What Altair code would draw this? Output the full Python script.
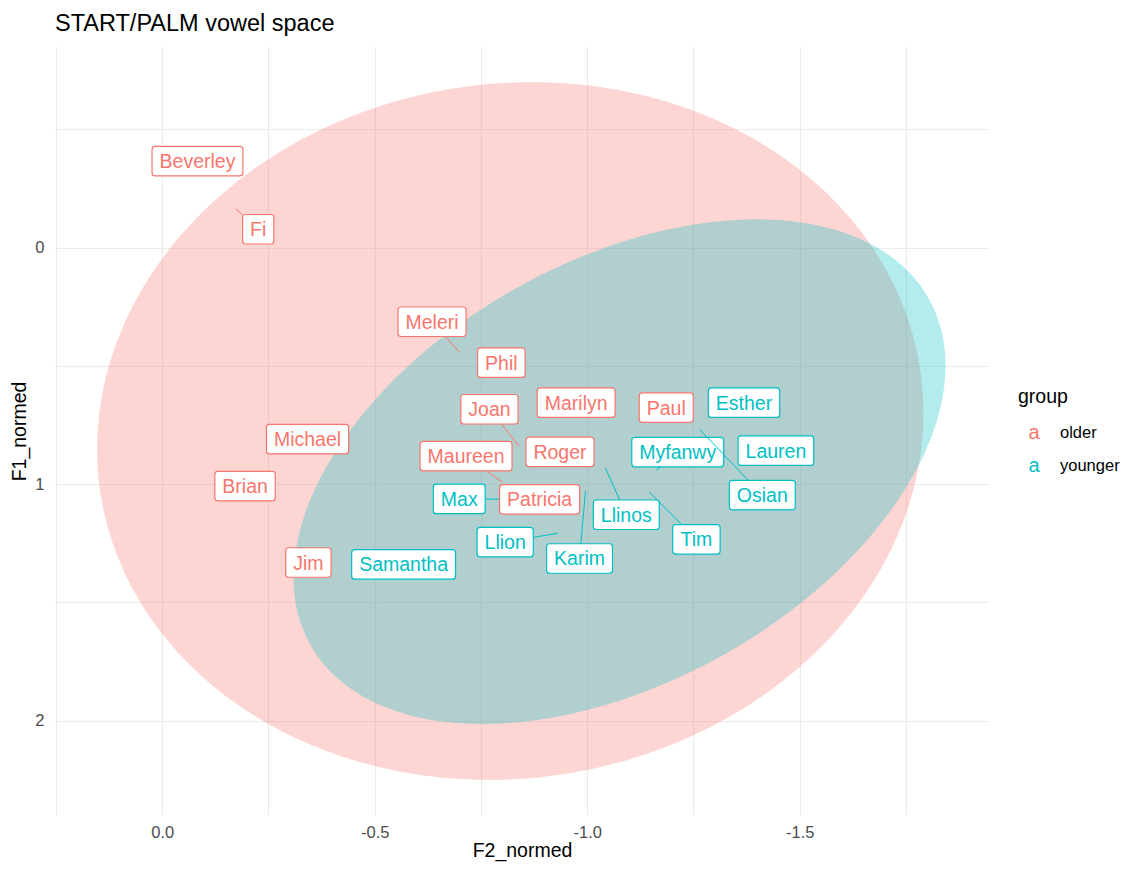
import altair as alt
import numpy as np
import pandas as pd

# ---------------- data ----------------
groups = ["older", "younger"]
group_colors = ["#F8766D", "#00BFC4"]

older_names = ["Beverley", "Fi", "Meleri", "Phil", "Joan", "Marilyn", "Paul",
               "Maureen", "Roger", "Patricia", "Michael", "Brian", "Jim"]
older_F2 = [-0.083, -0.173, -0.699, -0.798, -0.840, -0.974, -1.186,
            -0.800, -0.936, -0.888, -0.342, -0.195, -0.344]
older_F1 = [-0.366, -0.165, 0.442, 0.486, 0.839, 0.655, 0.676,
            0.991, 0.863, 1.064, 0.809, 1.008, 1.331]
older_label_F2 = [-0.083, -0.226, -0.635, -0.798, -0.770, -0.974, -1.186,
                  -0.715, -0.936, -0.888, -0.342, -0.195, -0.344]
older_label_F1 = [-0.366, -0.078, 0.313, 0.486, 0.683, 0.655, 0.676,
                  0.881, 0.863, 1.064, 0.809, 1.008, 1.331]

younger_names = ["Max", "Samantha", "Llion", "Karim", "Llinos", "Tim",
                 "Myfanwy", "Esther", "Lauren", "Osian"]
younger_F2 = [-0.793, -0.568, -0.932, -0.996, -1.043, -1.146,
              -1.163, -1.369, -1.444, -1.264]
younger_F1 = [1.063, 1.339, 1.207, 1.029, 0.932, 1.033,
              0.940, 0.655, 0.858, 0.767]
younger_label_F2 = [-0.699, -0.568, -0.807, -0.982, -1.092, -1.257,
                    -1.213, -1.369, -1.444, -1.412]
younger_label_F1 = [1.062, 1.339, 1.245, 1.314, 1.129, 1.233,
                    0.864, 0.655, 0.858, 1.046]

# 95% ellipses per group: centre, half extents, phase
ell_cF2 = [-0.819, -1.076]
ell_cF1 = [0.775, 0.947]
ell_rF2 = [0.972, 0.767]
ell_rF1 = [1.475, 1.067]
ell_phase = [1.519, 1.137]

x_ticks = [0.25, 0.0, -0.25, -0.5, -0.75, -1.0, -1.25, -1.5, -1.75]
y_ticks = [-0.5, 0.0, 0.5, 1.0, 1.5, 2.0]

# ---------------- layout constants ----------------
W, H = 934, 768
X_DOM = [-1.9454, 0.2522]
Y_DOM = [-0.8487, 2.3986]
FONT = "Liberation Sans"
LABEL_FS = 19.5
kx = W / (X_DOM[1] - X_DOM[0])
ky = H / (Y_DOM[1] - Y_DOM[0])

# Arial advance widths (per 1000 em)
AW = {
    'B': 667, 'F': 611, 'M': 833, 'P': 667, 'J': 500, 'R': 722, 'I': 278,
    'L': 556, 'K': 667, 'T': 611, 'E': 667, 'O': 778, 'S': 667,
    'a': 556, 'b': 556, 'c': 500, 'd': 556, 'e': 556, 'f': 278, 'g': 556,
    'h': 556, 'i': 222, 'j': 222, 'k': 500, 'l': 222, 'm': 833, 'n': 556,
    'o': 556, 'p': 556, 'r': 333, 's': 500, 't': 278, 'u': 556, 'v': 500,
    'w': 722, 'x': 500, 'y': 500,
}


def text_w(s):
    return sum(AW.get(c, 556) for c in s) / 1000.0 * LABEL_FS


rows = []
for g, names, px, py, lx, ly in [
    ("older", older_names, older_F2, older_F1, older_label_F2, older_label_F1),
    ("younger", younger_names, younger_F2, younger_F1, younger_label_F2, younger_label_F1),
]:
    for n, a, b, c, d in zip(names, px, py, lx, ly):
        hw = (text_w(n) / 2 + 7.5) / kx
        hh = 14.75 / ky
        dx, dy = a - c, b - d
        ts = []
        if abs(dx) > 1e-9:
            ts.append(hw / abs(dx))
        if abs(dy) > 1e-9:
            ts.append(hh / abs(dy))
        t = min(ts) if ts else 1.0
        if t >= 1.0:
            ex, ey = a, b  # point inside the label: no segment
        else:
            ex, ey = c + t * dx, d + t * dy
        rows.append(dict(group=g, name=n, pF2=a, pF1=b, lF2=c, lF1=d,
                         eF2=ex, eF1=ey,
                         bx1=c - hw, bx2=c + hw, by1=d - hh, by2=d + hh))
labels = pd.DataFrame(rows)

ell_rows = []
for i, g in enumerate(groups):
    for t in np.linspace(0, np.pi, 241):
        ell_rows.append(dict(
            group=g,
            F2=ell_cF2[i] + ell_rF2[i] * np.cos(t),
            ya=ell_cF1[i] + ell_rF1[i] * np.cos(t - ell_phase[i]),
            yb=ell_cF1[i] + ell_rF1[i] * np.cos(t + ell_phase[i]),
        ))
ell = pd.DataFrame(ell_rows)

# ---------------- scales / axes ----------------
xs = alt.Scale(domain=X_DOM, reverse=True, nice=False, zero=False)
ys = alt.Scale(domain=Y_DOM, reverse=True, nice=False, zero=False)
cs = alt.Scale(domain=groups, range=group_colors)

x_axis = alt.Axis(
    values=x_ticks,
    labelExpr="abs(datum.value*2 - round(datum.value*2)) < 1e-6 ? "
              "replace(format(datum.value, '.1f'), '\u2212', '-') : ''",
    labelPadding=9, titlePadding=1,
)
y_axis = alt.Axis(
    values=y_ticks,
    labelExpr="abs(datum.value - round(datum.value)) < 1e-6 ? "
              "format(datum.value, 'd') : ''",
    labelPadding=11, titlePadding=5,
)


def X(f):
    return alt.X(f, type="quantitative", title="F2_normed", scale=xs, axis=x_axis)


def Y(f):
    return alt.Y(f, type="quantitative", title="F1_normed", scale=ys, axis=y_axis)


layers = []
for i, g in enumerate(groups):
    layers.append(
        alt.Chart(ell[ell.group == g]).mark_area(
            color=group_colors[i], opacity=0.3, interpolate="linear"
        ).encode(x=X("F2"), y=Y("ya"), y2="yb")
    )

box = alt.Chart(labels).mark_rect(
    fill="white", strokeWidth=1.2, cornerRadius=3
).encode(
    x=X("bx1"), x2="bx2", y=Y("by1"), y2="by2",
    stroke=alt.Stroke("group:N", scale=cs, legend=None),
)
txt = alt.Chart(labels).mark_text(
    font=FONT, fontSize=LABEL_FS, baseline="middle", align="center", dy=1
).encode(
    x=X("lF2"), y=Y("lF1"), text="name:N",
    color=alt.Color("group:N", scale=cs, legend=None),
)
seg = alt.Chart(labels).mark_rule(strokeWidth=1).encode(
    x=X("pF2"), y=Y("pF1"), x2="eF2", y2="eF1",
    color=alt.Color("group:N", scale=cs, legend=None),
)
layers += [box, txt, seg]

# manual ggplot-style legend
leg_title = alt.Chart(pd.DataFrame({"t": ["group"]})).mark_text(
    font=FONT, fontSize=19.5, align="left", baseline="middle", color="black"
).encode(text="t:N", x=alt.value(963), y=alt.value(350))
layers.append(leg_title)
for i, g in enumerate(groups):
    yy = 386 + 32.7 * i
    d = pd.DataFrame({"group": [g], "key": ["a"]})
    layers.append(alt.Chart(d).mark_text(
        font=FONT, fontSize=20, align="center", baseline="middle",
        color=group_colors[i]
    ).encode(text="key:N", x=alt.value(979), y=alt.value(yy)))
    layers.append(alt.Chart(d).mark_text(
        font=FONT, fontSize=16.5, align="left", baseline="middle", color="black"
    ).encode(text="group:N", x=alt.value(1005), y=alt.value(yy)))

chart = alt.layer(*layers).properties(
    width=W, height=H,
    title=alt.TitleParams("START/PALM vowel space", anchor="start", frame="group",
                          font=FONT, fontSize=23.5, fontWeight="normal",
                          color="black", baseline="alphabetic", offset=15, dy=22),
    autosize=alt.AutoSizeParams(type="none"),
    padding={"left": 47, "top": 39, "right": 131, "bottom": 47},
).configure_view(stroke=None).configure_axis(
    domain=False, ticks=False, tickSize=0,
    grid=True, gridColor="#EBEBEB", gridWidth=1.1,
    labelFont=FONT, labelFontSize=16.5, labelColor="#4D4D4D",
    titleFont=FONT, titleFontSize=19.5, titleColor="black", titleFontWeight="normal",
)

chart.save("out.html", embed_options={"renderer": "svg", "actions": False})
